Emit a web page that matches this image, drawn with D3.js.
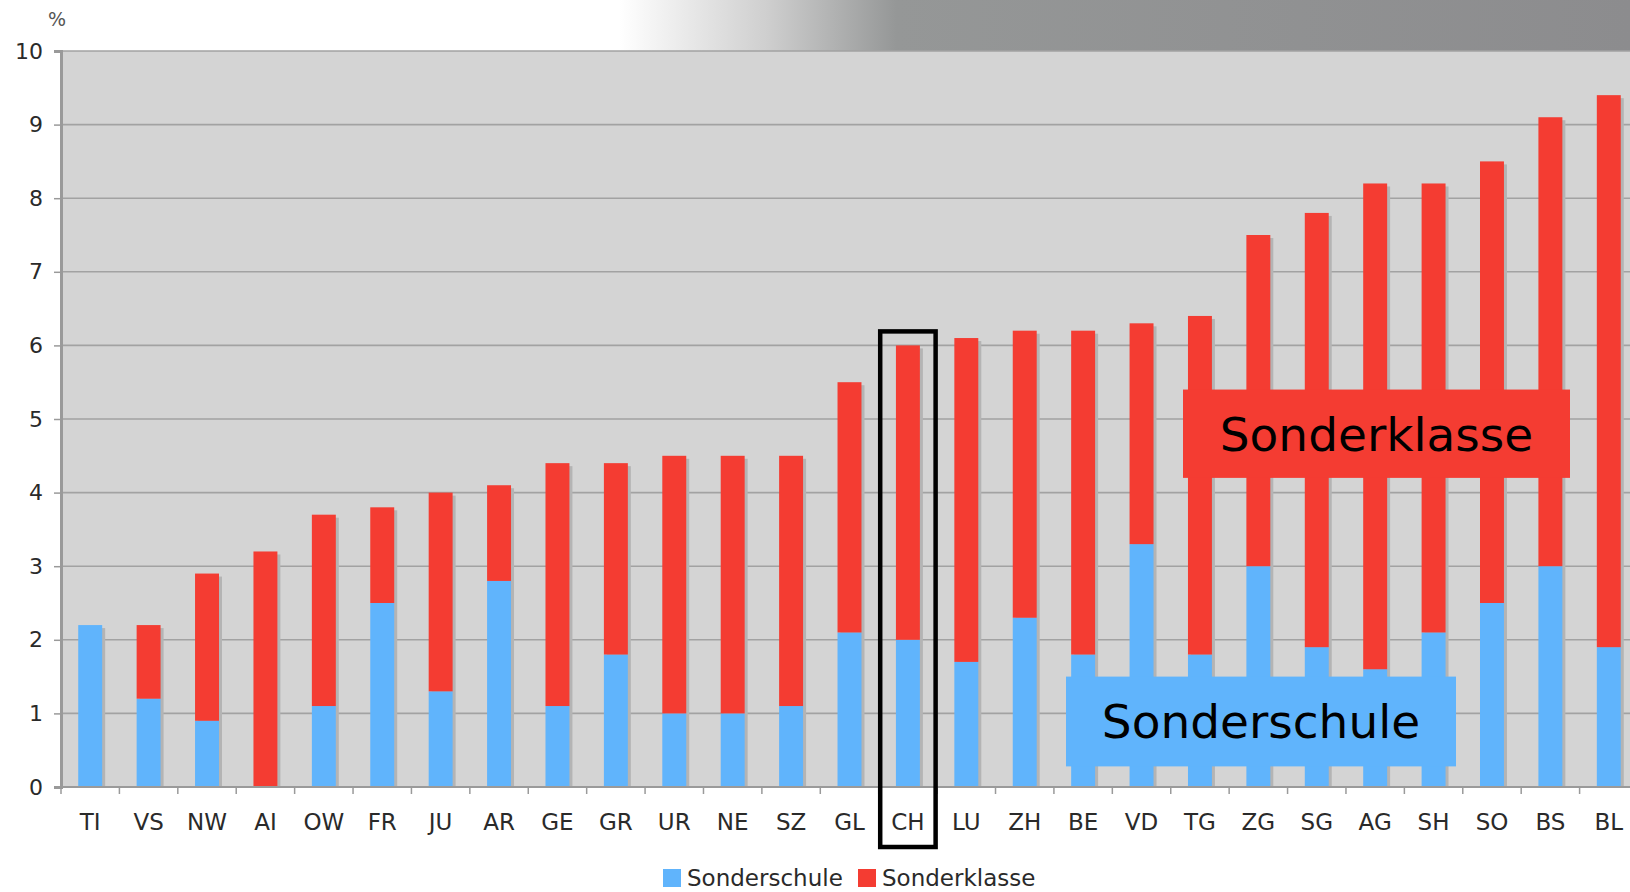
<!DOCTYPE html>
<html lang="de">
<head>
<meta charset="UTF-8">
<title>Sonderschule / Sonderklasse</title>
<script src="https://cdn.jsdelivr.net/npm/d3@7/dist/d3.min.js"></script>
<style>
  body { margin: 0; background: #fff; }
  svg { display: block; font-family: "DejaVu Sans", Verdana, sans-serif; }
</style>
</head>
<body>
<svg id="chart" width="1630" height="892"></svg>
<script>
    // data (percent of pupils)
    let cantons = ['TI','VS','NW','AI','OW','FR','JU','AR','GE','GR','UR','NE','SZ','GL','CH','LU','ZH','BE','VD','TG','ZG','SG','AG','SH','SO','BS','BL'];
    let sonderschule = [2.2,1.2,0.9,0,1.1,2.5,1.3,2.8,1.1,1.8,1.0,1.0,1.1,2.1,2.0,1.7,2.3,1.8,3.3,1.8,3.0,1.9,1.6,2.1,2.5,3.0,1.9];
    let sonderklasse = [0,1.0,2.0,3.2,2.6,1.3,2.7,1.3,3.3,2.6,3.5,3.5,3.4,3.4,4.0,4.4,3.9,4.4,3.0,4.6,4.5,5.9,6.6,6.1,6.0,6.1,7.5];
    let seriesNames = ['Sonderschule','Sonderklasse'];
    let yTicks = [0,1,2,3,4,5,6,7,8,9,10];
    let highlight = 'CH';

    let colours = ['#60b4fc', '#f43c32'];
    let svg = d3.select('svg#chart');
    let plot = {left: 61, top: 51, bottom: 787, right: 1638};

    let rows = cantons.map(function(c, i){
        return {canton: c, Sonderschule: sonderschule[i], Sonderklasse: sonderklasse[i]};
    });
    let stacks = d3.stack().keys(seriesNames)(rows);

    let x = d3.scaleBand().domain(cantons).range([plot.left, plot.right]).paddingInner(0.59).paddingOuter(0.295);
    let xb = d3.scaleBand().domain(cantons).range([plot.left, plot.right]);
    let y = d3.scaleLinear().domain([0, 10]).range([plot.bottom, plot.top]);

    // background: grey fade at the top right
    let defs = svg.append('defs');
    let grad = defs.append('linearGradient').attr('id', 'topfade').attr('x1', 0).attr('x2', 1).attr('y1', 0).attr('y2', 0);
    grad.append('stop').attr('offset', '0.38').attr('stop-color', '#ffffff');
    grad.append('stop').attr('offset', '0.47').attr('stop-color', '#cfcfcf');
    grad.append('stop').attr('offset', '0.55').attr('stop-color', '#959797');
    grad.append('stop').attr('offset', '1').attr('stop-color', '#8c8c8e');
    svg.append('rect').attr('x', 0).attr('y', 0).attr('width', 1630).attr('height', plot.top).attr('fill', 'url(#topfade)');

    // plot area
    svg.append('rect')
        .attr('x', plot.left).attr('y', plot.top)
        .attr('width', plot.right - plot.left).attr('height', plot.bottom - plot.top)
        .attr('fill', '#d4d4d4');

    // grid lines
    svg.append('g').selectAll('line')
        .data(yTicks)
        .enter()
        .append('line')
        .attr('x1', plot.left).attr('x2', plot.right)
        .attr('y1', function(d){return y(d);}).attr('y2', function(d){return y(d);})
        .attr('stroke', '#a2a2a2').attr('stroke-width', 1.6);

    // bar shadows
    svg.append('g').selectAll('rect')
        .data(rows)
        .enter()
        .append('rect')
        .attr('x', function(d){return x(d.canton) + 3;})
        .attr('y', function(d){return y(d.Sonderschule + d.Sonderklasse) + 3;})
        .attr('width', x.bandwidth())
        .attr('height', function(d){return Math.max(0, plot.bottom - y(d.Sonderschule + d.Sonderklasse) - 3);})
        .attr('fill', '#b4b4b4');

    // stacked bars
    let layers = svg.append('g').selectAll('g')
        .data(stacks)
        .enter()
        .append('g')
        .style('fill', function(d, i){return colours[i];});

    layers.selectAll('rect')
        .data(function(d){return d;})
        .enter()
        .append('rect')
        .attr('x', function(d){return x(d.data.canton);})
        .attr('y', function(d){return y(d[1]);})
        .attr('width', x.bandwidth())
        .attr('height', function(d){return y(d[0]) - y(d[1]);});

    // y axis
    let yAxis = svg.append('g')
        .attr('transform', 'translate(' + plot.left + ',0)')
        .call(d3.axisLeft(y).tickValues(yTicks).tickSize(7).tickPadding(11));
    yAxis.select('.domain').attr('stroke', '#9a9a9a').attr('stroke-width', 3);
    yAxis.selectAll('.tick line').attr('stroke', '#9a9a9a').attr('stroke-width', 1.5);
    yAxis.selectAll('.tick text').attr('fill', '#2a2a2a').style('font-size', '22px').style('font-family', '"DejaVu Sans", sans-serif');

    // x axis: ticks at the band edges, labels centred
    let xAxisG = svg.append('g');
    xAxisG.append('line')
        .attr('x1', plot.left).attr('x2', plot.right)
        .attr('y1', plot.bottom).attr('y2', plot.bottom)
        .attr('stroke', '#9a9a9a').attr('stroke-width', 2);
    xAxisG.selectAll('line.tk')
        .data(cantons)
        .enter()
        .append('line')
        .attr('class', 'tk')
        .attr('x1', function(d){return xb(d);}).attr('x2', function(d){return xb(d);})
        .attr('y1', plot.bottom).attr('y2', plot.bottom + 7)
        .attr('stroke', '#9a9a9a').attr('stroke-width', 1.5);
    xAxisG.selectAll('text')
        .data(cantons)
        .enter()
        .append('text')
        .attr('x', function(d){return xb(d) + xb.bandwidth() / 2;})
        .attr('y', plot.bottom + 43)
        .attr('text-anchor', 'middle')
        .attr('fill', '#2a2a2a')
        .style('font-size', '23px')
        .text(function(d){return d;});

    // unit
    svg.append('text')
        .attr('x', 57).attr('y', 26)
        .attr('text-anchor', 'middle')
        .attr('fill', '#555')
        .style('font-size', '19px')
        .text('%');

    // CH highlight box
    let hiTotal = sonderschule[cantons.indexOf(highlight)] + sonderklasse[cantons.indexOf(highlight)];
    svg.append('rect')
        .attr('x', xb(highlight) + 1.5)
        .attr('y', y(hiTotal) - 14)
        .attr('width', xb.bandwidth() - 3)
        .attr('height', plot.bottom + 60 - (y(hiTotal) - 14))
        .attr('fill', 'none')
        .attr('stroke', '#000')
        .attr('stroke-width', 4.5);

    // big callout labels
    let callouts = [
        {name: 'Sonderklasse', colour: colours[1], x0: 1183, x1: 1570, v0: 4.2, v1: 5.4},
        {name: 'Sonderschule', colour: colours[0], x0: 1066, x1: 1456, v0: 0.28, v1: 1.5}
    ];
    callouts.forEach(function(c){
        svg.append('rect')
            .attr('x', c.x0).attr('y', y(c.v1))
            .attr('width', c.x1 - c.x0).attr('height', y(c.v0) - y(c.v1))
            .attr('fill', c.colour);
        svg.append('text')
            .attr('x', (c.x0 + c.x1) / 2)
            .attr('y', (y(c.v0) + y(c.v1)) / 2 + 17)
            .attr('text-anchor', 'middle')
            .attr('fill', '#000')
            .style('font-size', '47px')
            .text(c.name);
    });

    // legend
    let legend = svg.append('g').attr('transform', 'translate(663,869)');
    let legendX = [0, 195];
    seriesNames.forEach(function(s, i){
        legend.append('rect')
            .attr('x', legendX[i]).attr('y', 0)
            .attr('width', 18).attr('height', 18)
            .attr('fill', colours[i]);
        legend.append('text')
            .attr('x', legendX[i] + 24).attr('y', 17)
            .attr('fill', '#2a2a2a')
            .style('font-size', '23px')
            .text(s);
    });
</script>
</body>
</html>
